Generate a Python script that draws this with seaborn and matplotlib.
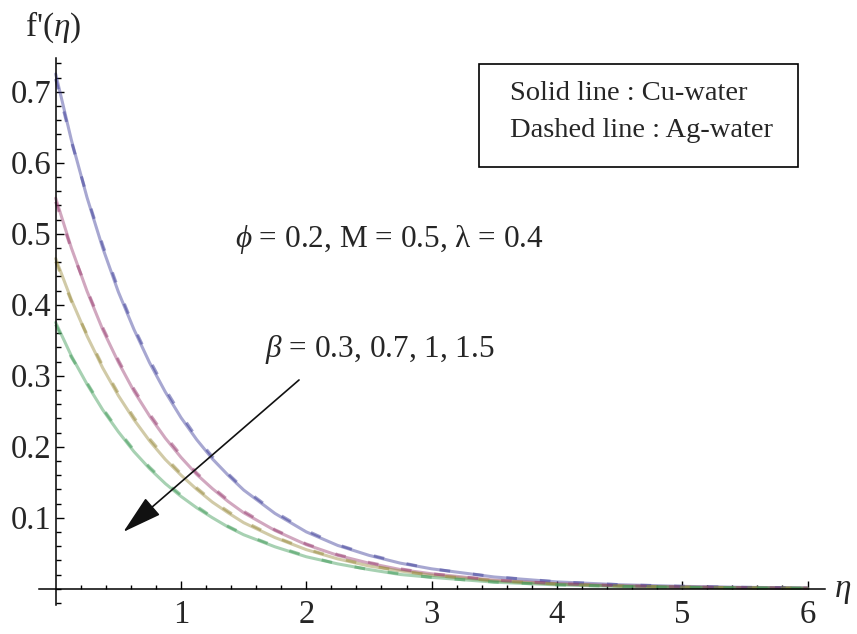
import numpy as np
import pandas as pd
import seaborn as sns
import matplotlib.pyplot as plt
from matplotlib.patches import Rectangle

# similarity variable
eta = [0.0, 0.125, 0.25, 0.375, 0.5, 0.625, 0.75, 0.875, 1.0, 1.125, 1.25, 1.375,
       1.5, 1.75, 2.0, 2.25, 2.5, 2.75, 3.0, 3.5, 4.0, 4.5, 5.0, 5.5, 6.0]

# f'(eta) for beta = 0.3, 0.7, 1, 1.5 -- Cu-water (solid)
cu_b03 = [0.725, 0.632, 0.551, 0.480, 0.418, 0.365, 0.318, 0.277, 0.241, 0.210,
          0.183, 0.160, 0.139, 0.106, 0.080, 0.061, 0.047, 0.036, 0.028,
          0.0165, 0.0096, 0.0056, 0.0033, 0.0019, 0.0011]
cu_b07 = [0.550, 0.480, 0.419, 0.365, 0.319, 0.278, 0.243, 0.212, 0.185, 0.161,
          0.141, 0.123, 0.107, 0.082, 0.062, 0.047, 0.036, 0.027, 0.021,
          0.012, 0.0070, 0.0041, 0.0024, 0.0014, 0.0008]
cu_b10 = [0.465, 0.407, 0.356, 0.311, 0.272, 0.238, 0.208, 0.182, 0.160, 0.140,
          0.122, 0.107, 0.093, 0.072, 0.055, 0.042, 0.032, 0.025, 0.019,
          0.011, 0.0064, 0.0038, 0.0022, 0.0013, 0.0007]
cu_b15 = [0.375, 0.328, 0.288, 0.252, 0.221, 0.193, 0.169, 0.148, 0.130, 0.114,
          0.100, 0.087, 0.076, 0.059, 0.045, 0.035, 0.027, 0.020, 0.016,
          0.0092, 0.0054, 0.0032, 0.0019, 0.0011, 0.0006]

# f'(eta) for the same beta values -- Ag-water (dashed)
ag_b03 = [0.718, 0.630, 0.553, 0.484, 0.422, 0.368, 0.322, 0.281, 0.245, 0.213,
          0.186, 0.162, 0.141, 0.108, 0.082, 0.062, 0.048, 0.037, 0.028,
          0.0168, 0.0098, 0.0057, 0.0034, 0.0019, 0.0011]
ag_b07 = [0.545, 0.478, 0.421, 0.368, 0.322, 0.281, 0.246, 0.215, 0.188, 0.163,
          0.143, 0.125, 0.109, 0.083, 0.063, 0.048, 0.037, 0.028, 0.021,
          0.0123, 0.0072, 0.0042, 0.0024, 0.0014, 0.0008]
ag_b10 = [0.461, 0.405, 0.358, 0.314, 0.275, 0.241, 0.211, 0.185, 0.162, 0.142,
          0.124, 0.109, 0.095, 0.073, 0.056, 0.043, 0.033, 0.025, 0.019,
          0.0113, 0.0066, 0.0039, 0.0023, 0.0013, 0.0007]
ag_b15 = [0.372, 0.326, 0.290, 0.254, 0.223, 0.195, 0.171, 0.150, 0.132, 0.116,
          0.101, 0.088, 0.077, 0.060, 0.046, 0.035, 0.027, 0.021, 0.016,
          0.0094, 0.0055, 0.0032, 0.0019, 0.0011, 0.0006]

beta_labels = ["0.3", "0.7", "1", "1.5"]
curve_colors = [(0.24, 0.24, 0.6), (0.6, 0.24, 0.443), (0.6, 0.547, 0.24), (0.24, 0.6, 0.337)]

x_ticks = [1, 2, 3, 4, 5, 6]
y_ticks = [0.1, 0.2, 0.3, 0.4, 0.5, 0.6, 0.7]

sns.set_style("white")
plt.rcParams["font.family"] = ["Liberation Serif", "DejaVu Serif"]
plt.rcParams["mathtext.fontset"] = "custom"
plt.rcParams["mathtext.rm"] = "Liberation Serif"
plt.rcParams["mathtext.it"] = "Liberation Serif:italic"

W, H = 857, 634
fig = plt.figure(figsize=(W / 100, H / 100), dpi=100)
ax = fig.add_axes([0, 0, 1, 1])
ax.set_facecolor("white")

# data <-> pixel layout: eta=0 at x=55.7 px, 125.3 px per unit; f'=0 at y=588.7 px, 710 px per unit
x0_px, x_scale = 55.7, 125.3
y0_px, y_scale = 588.7, 710.0
ax.set_xlim(-x0_px / x_scale, (W - x0_px) / x_scale)
ax.set_ylim(-(H - y0_px) / y_scale, y0_px / y_scale)

solid = [cu_b03, cu_b07, cu_b10, cu_b15]
dashed = [ag_b03, ag_b07, ag_b10, ag_b15]

for vals, col in zip(solid, curve_colors):
    sns.lineplot(x=eta, y=vals, color=col, alpha=0.45, lw=2.2, ax=ax)
for vals, col in zip(dashed, curve_colors):
    sns.lineplot(x=eta, y=vals, color=col, alpha=0.5, lw=2.2, ax=ax)
    ax.lines[-1].set_dashes((3.5, 7.5))

# axes crossing at the origin
for s in ["top", "right"]:
    ax.spines[s].set_visible(False)
ax.spines["left"].set_position(("data", 0))
ax.spines["bottom"].set_position(("data", 0))
ax.spines["left"].set_bounds(-0.023, 0.747)
ax.spines["bottom"].set_bounds(-0.13, 6.14)
for s in ["left", "bottom"]:
    ax.spines[s].set_color("black")
    ax.spines[s].set_linewidth(1.1)

ax.set_xticks(x_ticks)
ax.set_xticklabels([str(t) for t in x_ticks])
ax.set_xticks(np.round(np.arange(0.2, 6.01, 0.2), 2), minor=True)
ax.set_yticks(y_ticks)
ax.set_yticklabels([f"{t:.1f}" for t in y_ticks])
ax.set_yticks(np.round(np.arange(-0.02, 0.741, 0.02), 2), minor=True)

ax.tick_params(axis="both", which="both", direction="in", color="black", width=1.0,
               bottom=True, left=True, top=False, right=False)
ax.tick_params(axis="x", which="major", length=6, labelsize=23.5, pad=8)
ax.tick_params(axis="x", which="minor", length=3.2)
ax.tick_params(axis="y", which="major", length=6, labelsize=23.5, pad=3)
ax.tick_params(axis="y", which="minor", length=3.5)
ax.set_xlabel("")
ax.set_ylabel("")

def fx(px):
    return px / W

def fy(py):
    return 1 - py / H

# axis titles
fig.text(fx(25), fy(36), "f'($\\eta$)", fontsize=24, va="baseline", ha="left")
fig.text(fx(834), fy(597), "$\\eta$", fontsize=24, va="baseline", ha="left")

# parameter annotations
fig.text(fx(235), fy(247), "$\\phi$ = 0.2, M = 0.5, λ = 0.4", fontsize=22.5, va="baseline", ha="left")
fig.text(fx(265), fy(357), "$\\beta$ = " + ", ".join(beta_labels), fontsize=22.5, va="baseline", ha="left")

# direction of increasing beta
ax.annotate("", xy=(0.54, 0.080), xytext=(1.942, 0.294),
            arrowprops=dict(arrowstyle="-|>,head_length=1.0,head_width=0.28",
                            color="#111111", lw=1.2, mutation_scale=25,
                            shrinkA=0, shrinkB=0))

# line-style key
fig.add_artist(Rectangle((fx(479), fy(167)), fx(798) - fx(479), fy(64) - fy(167),
                         transform=fig.transFigure, fill=False, edgecolor="black", lw=1.2))
fig.text(fx(510), fy(100), "Solid line : Cu-water", fontsize=20.5, va="baseline", ha="left")
fig.text(fx(510), fy(137), "Dashed line : Ag-water", fontsize=20.5, va="baseline", ha="left")

fig.savefig("out.png", dpi=100, facecolor="white")
